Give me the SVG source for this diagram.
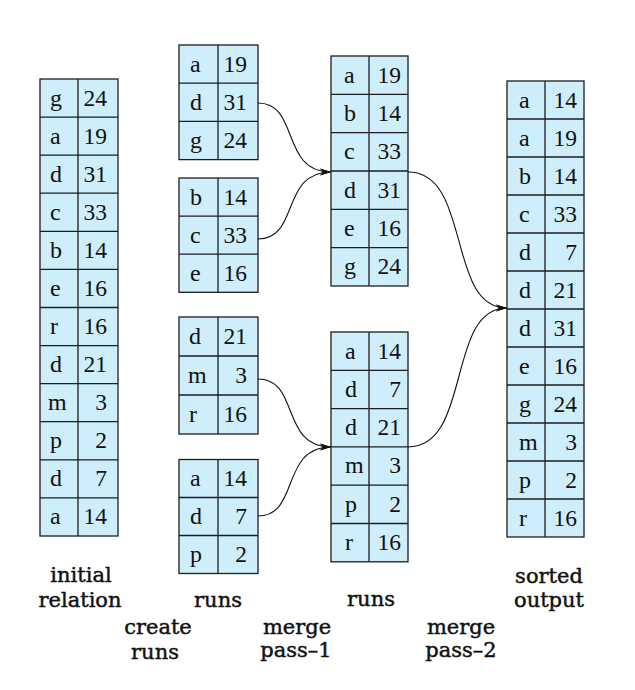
<svg xmlns="http://www.w3.org/2000/svg" width="635" height="690" viewBox="0 0 635 690">
<defs>
<style>
.box{fill:#cdeefa;stroke:#1e1e1e;stroke-width:1.3}
.grid{fill:none;stroke:#1e1e1e;stroke-width:1.3}
.k{font-family:"Liberation Serif",serif;font-size:24px;fill:#111}
.v{font-family:"Liberation Serif",serif;font-size:23.5px;fill:#111;text-anchor:end}
.lbl{font-family:"DejaVu Serif",serif;font-size:21px;fill:#111;stroke:#111;stroke-width:0.45;text-anchor:middle}
.conn{fill:none;stroke:#111;stroke-width:1.1;marker-end:url(#arr)}
</style>
<marker id="arr" markerUnits="userSpaceOnUse" markerWidth="12" markerHeight="8" refX="11" refY="4" orient="auto">
<path d="M0,0.5 L11,4 L0,7.5 L3,4 Z" fill="#111"/>
</marker>
</defs>
<rect width="635" height="690" fill="#fff"/>

<g id="initial-relation">
<rect class="box" x="40" y="79" width="78" height="457"/>
<path class="grid" d="M40,117.1H118M40,155.2H118M40,193.2H118M40,231.3H118M40,269.4H118M40,307.5H118M40,345.6H118M40,383.6H118M40,421.7H118M40,459.8H118M40,497.9H118M78,79V536"/>
<text class="k" x="50" y="105.5">g</text><text class="v" x="107" y="105.5">24</text>
<text class="k" x="50" y="143.6">a</text><text class="v" x="107" y="143.6">19</text>
<text class="k" x="50" y="181.7">d</text><text class="v" x="107" y="181.7">31</text>
<text class="k" x="50" y="219.7">c</text><text class="v" x="107" y="219.7">33</text>
<text class="k" x="50" y="257.8">b</text><text class="v" x="107" y="257.8">14</text>
<text class="k" x="50" y="295.9">e</text><text class="v" x="107" y="295.9">16</text>
<text class="k" x="50" y="334">r</text><text class="v" x="107" y="334">16</text>
<text class="k" x="50" y="372.1">d</text><text class="v" x="107" y="372.1">21</text>
<text class="k" x="48" y="410.1">m</text><text class="v" x="107" y="410.1">3</text>
<text class="k" x="50" y="448.2">p</text><text class="v" x="107" y="448.2">2</text>
<text class="k" x="50" y="486.3">d</text><text class="v" x="107" y="486.3">7</text>
<text class="k" x="50" y="524.4">a</text><text class="v" x="107" y="524.4">14</text>
</g>

<g id="run-1">
<rect class="box" x="179" y="45" width="79" height="114.6"/>
<path class="grid" d="M179,83.2H258M179,121.4H258M218,45V159.6"/>
<text class="k" x="190" y="71.5">a</text><text class="v" x="247" y="71.5">19</text>
<text class="k" x="190" y="109.7">d</text><text class="v" x="247" y="109.7">31</text>
<text class="k" x="190" y="147.9">g</text><text class="v" x="247" y="147.9">24</text>
</g>

<g id="run-2">
<rect class="box" x="179" y="178" width="79" height="114.3"/>
<path class="grid" d="M179,216.1H258M179,254.2H258M218,178V292.3"/>
<text class="k" x="190" y="204.5">b</text><text class="v" x="247" y="204.5">14</text>
<text class="k" x="190" y="242.6">c</text><text class="v" x="247" y="242.6">33</text>
<text class="k" x="190" y="280.7">e</text><text class="v" x="247" y="280.7">16</text>
</g>

<g id="run-3">
<rect class="box" x="179" y="317" width="79" height="117"/>
<path class="grid" d="M179,356H258M179,395H258M218,317V434"/>
<text class="k" x="189" y="343.5">d</text><text class="v" x="247" y="343.5">21</text>
<text class="k" x="188" y="382.5">m</text><text class="v" x="247" y="382.5">3</text>
<text class="k" x="189" y="421.5">r</text><text class="v" x="247" y="421.5">16</text>
</g>

<g id="run-4">
<rect class="box" x="179" y="459.5" width="79" height="114"/>
<path class="grid" d="M179,497.5H258M179,535.5H258M218,459.5V573.5"/>
<text class="k" x="190" y="486">a</text><text class="v" x="247" y="486">14</text>
<text class="k" x="190" y="524">d</text><text class="v" x="247" y="524">7</text>
<text class="k" x="190" y="562">p</text><text class="v" x="247" y="562">2</text>
</g>

<g id="merged-run-1">
<rect class="box" x="331" y="56" width="77" height="230"/>
<path class="grid" d="M331,94.3H408M331,132.7H408M331,171H408M331,209.3H408M331,247.7H408M369,56V286"/>
<text class="k" x="344" y="82.5">a</text><text class="v" x="401" y="82.5">19</text>
<text class="k" x="344" y="120.8">b</text><text class="v" x="401" y="120.8">14</text>
<text class="k" x="344" y="159.2">c</text><text class="v" x="401" y="159.2">33</text>
<text class="k" x="344" y="197.5">d</text><text class="v" x="401" y="197.5">31</text>
<text class="k" x="344" y="235.8">e</text><text class="v" x="401" y="235.8">16</text>
<text class="k" x="344" y="274.2">g</text><text class="v" x="401" y="274.2">24</text>
</g>

<g id="merged-run-2">
<rect class="box" x="331" y="332" width="77" height="229.8"/>
<path class="grid" d="M331,370.3H408M331,408.6H408M331,446.9H408M331,485.2H408M331,523.5H408M369,332V561.8"/>
<text class="k" x="345" y="358.5">a</text><text class="v" x="401" y="358.5">14</text>
<text class="k" x="345" y="396.8">d</text><text class="v" x="401" y="396.8">7</text>
<text class="k" x="345" y="435.1">d</text><text class="v" x="401" y="435.1">21</text>
<text class="k" x="345" y="473.4">m</text><text class="v" x="401" y="473.4">3</text>
<text class="k" x="345" y="511.7">p</text><text class="v" x="401" y="511.7">2</text>
<text class="k" x="345" y="550">r</text><text class="v" x="401" y="550">16</text>
</g>

<g id="sorted-output">
<rect class="box" x="507" y="81" width="77" height="456"/>
<path class="grid" d="M507,119H584M507,157H584M507,195H584M507,233H584M507,271H584M507,309H584M507,347H584M507,385H584M507,423H584M507,461H584M507,499H584M545,81V537"/>
<text class="k" x="519" y="107.5">a</text><text class="v" x="577" y="107.5">14</text>
<text class="k" x="519" y="145.5">a</text><text class="v" x="577" y="145.5">19</text>
<text class="k" x="519" y="183.5">b</text><text class="v" x="577" y="183.5">14</text>
<text class="k" x="519" y="221.5">c</text><text class="v" x="577" y="221.5">33</text>
<text class="k" x="519" y="259.5">d</text><text class="v" x="577" y="259.5">7</text>
<text class="k" x="519" y="297.5">d</text><text class="v" x="577" y="297.5">21</text>
<text class="k" x="519" y="335.5">d</text><text class="v" x="577" y="335.5">31</text>
<text class="k" x="519" y="373.5">e</text><text class="v" x="577" y="373.5">16</text>
<text class="k" x="519" y="411.5">g</text><text class="v" x="577" y="411.5">24</text>
<text class="k" x="519" y="449.5">m</text><text class="v" x="577" y="449.5">3</text>
<text class="k" x="519" y="487.5">p</text><text class="v" x="577" y="487.5">2</text>
<text class="k" x="519" y="525.5">r</text><text class="v" x="577" y="525.5">16</text>
</g>

<g id="connectors">
<path class="conn" d="M258,103 C300,103 280,172 331,172"/>
<path class="conn" d="M258,239 C300,239 280,172 331,172"/>
<path class="conn" d="M258,379 C300,379 280,447 331,447"/>
<path class="conn" d="M258,516 C300,516 280,447 331,447"/>
<path class="conn" d="M408,172 C472,172 446,308 507,308"/>
<path class="conn" d="M408,447 C472,447 446,308 507,308"/>
</g>

<g id="labels">
<text class="lbl" x="81" y="582">initial</text>
<text class="lbl" x="80" y="607">relation</text>
<text class="lbl" x="218" y="607">runs</text>
<text class="lbl" x="158" y="634">create</text>
<text class="lbl" x="155" y="659">runs</text>
<text class="lbl" x="297" y="634">merge</text>
<text class="lbl" x="296" y="657">pass–1</text>
<text class="lbl" x="371" y="606">runs</text>
<text class="lbl" x="461" y="634">merge</text>
<text class="lbl" x="461" y="657">pass–2</text>
<text class="lbl" x="549" y="583">sorted</text>
<text class="lbl" x="549" y="607">output</text>
</g>
</svg>
